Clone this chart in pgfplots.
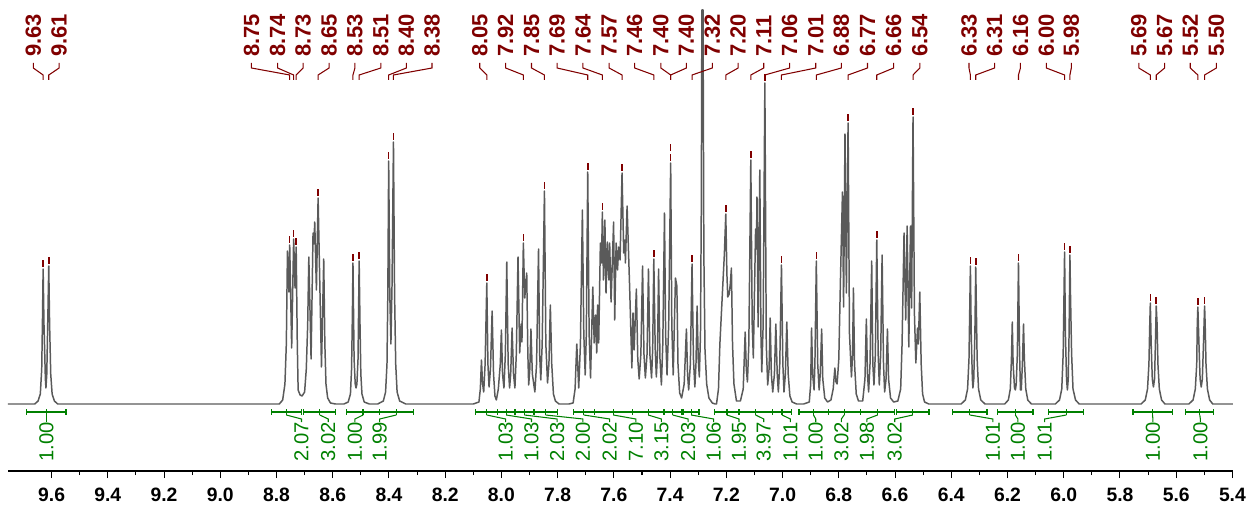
\documentclass[border=0pt]{standalone}
\usepackage{fontspec}
\setmainfont{Liberation Sans}
\usepackage{pgfplots}
\pgfplotsset{compat=1.18}

\definecolor{spec}{RGB}{90,90,90}
\definecolor{pkred}{RGB}{128,0,0}
\definecolor{intgreen}{RGB}{0,128,0}

\tikzset{
  plab/.style={rotate=90,anchor=west,inner sep=0pt,text=pkred,font=\bfseries\fontsize{12.5}{12.5}\selectfont},
  ilab/.style={rotate=90,anchor=east,inner sep=0pt,text=intgreen,font=\fontsize{11.5}{11.5}\selectfont},
}

\begin{document}
\begin{tikzpicture}
\begin{axis}[
  scale only axis,
  width=24.5cm, height=9.42cm,
  x dir=reverse,
  xmin=5.398, xmax=9.755,
  ymin=-67, ymax=404,
  axis x line*=bottom,
  axis y line=none,
  axis line style={black,line width=0.6pt},
  xtick={5.4,5.6,5.8,6.0,6.2,6.4,6.6,6.8,7.0,7.2,7.4,7.6,7.8,8.0,8.2,8.4,8.6,8.8,9.0,9.2,9.4,9.6},
  xticklabels={5.4,5.6,5.8,6.0,6.2,6.4,6.6,6.8,7.0,7.2,7.4,7.6,7.8,8.0,8.2,8.4,8.6,8.8,9.0,9.2,9.4,9.6},
  minor x tick num=1,
  tick align=outside,
  major tick length=4pt,
  minor tick length=2.3pt,
  tick style={black,line width=0.6pt},
  xticklabel style={font=\bfseries\fontsize{11}{11}\selectfont,yshift=-2pt},
  clip=false,
]

% spectrum (ppm, intensity)
\addplot[spec,line width=0.85pt,line join=round,no marks] coordinates {
(9.755,0) (9.660,0) (9.648,3) (9.640,10) (9.635,35) (9.632,90) (9.630,135) (9.627,80) (9.622,25) (9.620,16) (9.617,30) (9.613,90) (9.610,138) (9.607,80) (9.603,30) (9.598,10) (9.590,3) (9.578,0)
(8.790,0) (8.778,4) (8.770,20) (8.765,60) (8.761,153) (8.756,112) (8.753,159) (8.746,56) (8.739,165) (8.734,116) (8.730,157) (8.726,60) (8.723,14) (8.716,9) (8.709,8) (8.700,12) (8.694,35) (8.689,80) (8.685,147) (8.677,45) (8.670,171) (8.667,160) (8.664,182) (8.658,114) (8.652,206) (8.640,37) (8.632,145) (8.628,60) (8.624,20) (8.618,6) (8.608,1) (8.590,0)
(8.560,0) (8.545,2) (8.537,10) (8.533,35) (8.530,90) (8.528,141) (8.524,45) (8.520,20) (8.517,16) (8.514,20) (8.510,45) (8.506,143) (8.503,80) (8.500,30) (8.496,10) (8.488,2) (8.470,0)
(8.440,0) (8.420,3) (8.412,12) (8.407,40) (8.404,110) (8.401,243) (8.397,110) (8.393,60) (8.389,120) (8.384,262) (8.380,110) (8.376,40) (8.371,12) (8.362,3) (8.340,0)
(8.100,0) (8.080,2) (8.075,15) (8.071,44) (8.067,20) (8.063,12) (8.058,40) (8.052,121) (8.048,40) (8.044,17) (8.039,35) (8.033,93) (8.028,30) (8.023,8) (8.018,4) (8.011,15) (8.004,40) (8.000,74) (7.996,30) (7.991,16) (7.986,50) (7.981,142) (7.976,40) (7.971,16) (7.967,30) (7.962,76) (7.957,30) (7.952,16) (7.947,50) (7.941,147) (7.935,51) (7.930,80) (7.927,62) (7.922,161) (7.917,106) (7.910,131) (7.906,50) (7.903,19) (7.899,35) (7.895,75) (7.890,30) (7.881,12) (7.875,40) (7.868,155) (7.864,50) (7.860,24) (7.855,60) (7.847,213) (7.842,60) (7.836,21) (7.831,40) (7.826,99) (7.821,40) (7.815,10) (7.808,3) (7.795,0)
(7.760,0) (7.745,1) (7.738,15) (7.732,60) (7.725,16) (7.719,60) (7.712,194) (7.707,70) (7.702,29) (7.698,70) (7.693,232) (7.688,70) (7.683,26) (7.675,117) (7.670,61) (7.665,89) (7.661,51) (7.658,99) (7.654,61) (7.648,161) (7.644,141) (7.641,192) (7.637,124) (7.632,184) (7.628,111) (7.623,162) (7.618,124) (7.615,161) (7.610,102) (7.601,182) (7.597,84) (7.592,161) (7.587,134) (7.583,157) (7.578,144) (7.571,231) (7.565,151) (7.561,164) (7.559,141) (7.553,198) (7.544,117) (7.536,36) (7.532,91) (7.528,54) (7.520,115) (7.515,45) (7.510,25) (7.504,50) (7.498,138) (7.493,50) (7.488,26) (7.482,50) (7.477,135) (7.472,50) (7.466,26) (7.462,55) (7.458,145) (7.453,55) (7.449,27) (7.445,50) (7.441,135) (7.436,45) (7.431,19) (7.426,60) (7.420,191) (7.416,70) (7.411,29) (7.405,80) (7.398,241) (7.394,80) (7.389,29) (7.381,126) (7.376,118) (7.372,40) (7.366,11) (7.359,6) (7.350,20) (7.342,75) (7.338,30) (7.334,14) (7.328,40) (7.322,140) (7.317,45) (7.312,17) (7.308,40) (7.304,98) (7.300,45) (7.296,27) (7.292,70) (7.289,200) (7.287,394) (7.283,394) (7.280,150) (7.276,55) (7.270,20) (7.262,6) (7.250,1) (7.240,0)
(7.235,0) (7.228,15) (7.223,60) (7.214,111) (7.207,150) (7.202,190) (7.198,130) (7.195,107) (7.190,110) (7.186,120) (7.182,136) (7.178,60) (7.173,20) (7.164,3) (7.150,3) (7.140,15) (7.133,72) (7.129,35) (7.125,22) (7.120,60) (7.113,244) (7.108,80) (7.104,46) (7.096,175) (7.093,155) (7.091,207) (7.087,77) (7.081,234) (7.077,70) (7.074,32) (7.069,80) (7.063,321) (7.058,60) (7.053,19) (7.048,35) (7.044,86) (7.040,30) (7.035,12) (7.029,30) (7.024,80) (7.019,30) (7.015,12) (7.010,40) (7.004,139) (6.999,40) (6.995,12) (6.990,30) (6.985,82) (6.980,30) (6.974,8) (6.966,2) (6.950,0)
(6.925,0) (6.905,2) (6.900,20) (6.897,76) (6.893,30) (6.888,14) (6.885,40) (6.880,143) (6.875,40) (6.870,14) (6.866,30) (6.861,75) (6.857,25) (6.850,6) (6.840,2) (6.828,4) (6.820,15) (6.814,36) (6.810,22) (6.806,20) (6.800,45) (6.794,126) (6.787,212) (6.783,97) (6.778,270) (6.773,111) (6.767,281) (6.762,70) (6.755,27) (6.751,50) (6.748,116) (6.744,40) (6.738,10) (6.730,3) (6.715,3) (6.707,25) (6.702,85) (6.698,30) (6.694,12) (6.689,40) (6.683,143) (6.679,40) (6.675,19) (6.670,50) (6.665,164) (6.660,50) (6.656,19) (6.651,50) (6.646,149) (6.641,40) (6.637,12) (6.632,25) (6.627,75) (6.623,25) (6.616,6) (6.605,2) (6.590,3) (6.580,15) (6.575,60) (6.568,171) (6.562,84) (6.557,178) (6.551,57) (6.545,178) (6.541,96) (6.536,287) (6.531,90) (6.526,41) (6.520,76) (6.517,60) (6.512,112) (6.507,40) (6.502,10) (6.495,2) (6.480,0)
(6.365,0) (6.350,4) (6.342,15) (6.337,45) (6.334,100) (6.332,138) (6.329,70) (6.325,25) (6.323,16) (6.320,25) (6.316,70) (6.313,137) (6.311,100) (6.308,45) (6.303,15) (6.295,4) (6.280,0)
(6.210,0) (6.197,4) (6.190,15) (6.186,45) (6.183,82) (6.180,40) (6.175,16) (6.172,14) (6.169,20) (6.165,50) (6.161,141) (6.157,50) (6.154,14) (6.151,14) (6.147,40) (6.143,80) (6.140,45) (6.135,15) (6.128,4) (6.115,0)
(6.030,0) (6.015,4) (6.007,15) (6.002,50) (5.999,110) (5.997,152) (5.994,70) (5.990,25) (5.987,14) (5.984,25) (5.981,70) (5.978,149) (5.976,110) (5.972,50) (5.967,15) (5.958,4) (5.945,0)
(5.725,0) (5.710,4) (5.702,15) (5.697,40) (5.694,80) (5.692,101) (5.689,60) (5.685,25) (5.681,17) (5.677,25) (5.674,60) (5.671,98) (5.668,80) (5.665,40) (5.660,15) (5.652,4) (5.640,0)
(5.555,0) (5.540,4) (5.532,15) (5.527,40) (5.525,80) (5.523,97) (5.519,60) (5.515,25) (5.511,17) (5.507,25) (5.503,60) (5.499,98) (5.497,80) (5.494,40) (5.489,15) (5.481,4) (5.470,0) (5.398,0)
};

% peak labels: label position / peak position / peak height / text
\foreach \lx/\px/\h/\mytext in {
9.665/9.630/135/9.63, 9.573/9.610/138/9.61,
8.889/8.753/159/8.75, 8.796/8.739/165/8.74, 8.705/8.730/157/8.73, 8.613/8.652/206/8.65,
8.521/8.528/141/8.53, 8.429/8.506/143/8.51, 8.338/8.401/243/8.40, 8.247/8.384/262/8.38,
8.077/8.052/121/8.05, 7.985/7.922/161/7.92, 7.893/7.847/213/7.85, 7.802/7.693/232/7.69,
7.710/7.641/192/7.64, 7.617/7.571/231/7.57, 7.526/7.458/145/7.46, 7.433/7.398/251/7.40,
7.342/7.398/241/7.40, 7.250/7.322/140/7.32, 7.158/7.202/190/7.20, 7.067/7.113/244/7.11,
6.975/7.063/321/7.06, 6.882/7.004/139/7.01, 6.791/6.880/143/6.88, 6.698/6.767/281/6.77,
6.605/6.665/164/6.66, 6.512/6.536/287/6.54, 6.337/6.332/138/6.33, 6.246/6.313/137/6.31,
6.154/6.161/141/6.16, 6.062/5.997/152/6.00, 5.973/5.978/149/5.98, 5.733/5.692/101/5.69,
5.641/5.671/98/5.67, 5.550/5.523/97/5.52, 5.457/5.499/98/5.50}{
  \edef\tmp{
    \noexpand\draw[pkred,line width=0.6pt] (axis cs:\lx,341) -- (axis cs:\lx,336) -- (axis cs:\px,329) -- (axis cs:\px,324);
    \noexpand\draw[pkred,line width=0.9pt] (axis cs:\px,{\h+2}) -- (axis cs:\px,{\h+9});
    \noexpand\node[plab] at (axis cs:\lx,347) {\mytext};
  }
  \tmp
}

% integrals: start / end / centre / label position / value
\foreach \a/\b/\c/\lx/\mytext in {
9.689/9.549/9.618/9.618/1.00, 8.818/8.711/8.765/8.711/2.07, 8.703/8.589/8.646/8.616/3.02,
8.551/8.433/8.492/8.521/1.00, 8.433/8.314/8.374/8.433/1.99, 8.091/8.014/8.052/7.985/1.03,
8.014/7.952/7.983/7.893/1.03, 7.952/7.884/7.918/7.802/2.03, 7.884/7.801/7.843/7.710/2.00,
7.745/7.670/7.707/7.615/2.02, 7.670/7.534/7.602/7.522/7.10, 7.534/7.422/7.478/7.431/3.15,
7.422/7.360/7.391/7.336/2.03, 7.354/7.297/7.325/7.245/1.06, 7.241/7.155/7.198/7.155/1.95,
7.155/7.036/7.096/7.067/3.97, 7.036/6.969/7.002/6.972/1.01, 6.942/6.838/6.890/6.882/1.00,
6.838/6.723/6.781/6.791/3.02, 6.723/6.601/6.662/6.700/1.98, 6.595/6.479/6.537/6.601/3.02,
6.396/6.273/6.334/6.252/1.01, 6.236/6.109/6.172/6.163/1.00, 6.053/5.929/5.991/6.068/1.01,
5.754/5.614/5.684/5.683/1.00, 5.566/5.467/5.516/5.514/1.00}{
  \edef\tmp{
    \noexpand\draw[intgreen,line width=0.7pt] (axis cs:\a,-8) -- (axis cs:\b,-8);
    \noexpand\draw[intgreen,line width=0.7pt] (axis cs:\a,-5) -- (axis cs:\a,-11);
    \noexpand\draw[intgreen,line width=0.7pt] (axis cs:\b,-5) -- (axis cs:\b,-11);
    \noexpand\draw[intgreen,line width=0.7pt] (axis cs:\c,-5) -- (axis cs:\c,-11);
    \noexpand\draw[intgreen,line width=0.6pt] (axis cs:\c,-11) -- (axis cs:\lx,-15) -- (axis cs:\lx,-18);
    \noexpand\node[ilab] at (axis cs:\lx,-18) {\mytext};
  }
  \tmp
}
\end{axis}
\pgfresetboundingbox
\path ([shift={(-0.16cm,-0.70cm)}]current axis.south west) rectangle ([shift={(0.32cm,0cm)}]current axis.north east);
\end{tikzpicture}
\end{document}
